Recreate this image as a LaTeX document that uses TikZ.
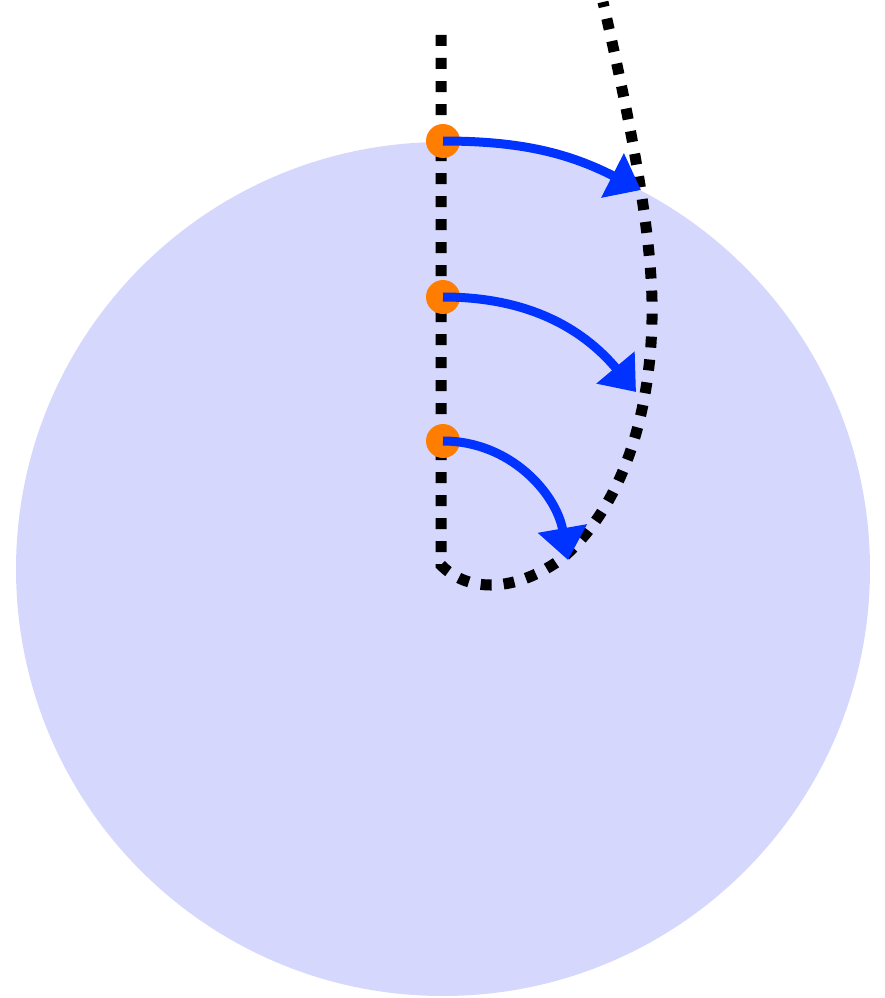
\documentclass[tikz,border=0pt]{standalone}
\usetikzlibrary{arrows.meta}
\definecolor{disk}{RGB}{214,215,253}
\definecolor{dotor}{RGB}{255,125,0}
\definecolor{arrblue}{RGB}{0,51,255}
\tikzset{
  trail/.style={line width=11pt, dash pattern=on 11pt off 12pt, black},
  pointdot/.style={circle, fill=dotor, minimum size=34pt, inner sep=0pt},
  move/.style={line width=9pt, arrblue, -{Triangle[length=32pt,width=48pt]}},
}
\begin{document}
\begin{tikzpicture}[x=1pt,y=-1pt]
\useasboundingbox (0,0) rectangle (885,998);
\fill[disk] (443,569) circle (427);
\draw[trail] (441,35) -- (441,565) .. controls (465,590) and (510,595) .. (560,560)
  .. controls (620,510) and (650,420) .. (652,320)
  .. controls (654,240) and (630,120) .. (603,2);
\node[pointdot] (p1) at (443,141) {};
\node[pointdot] (p2) at (443,297) {};
\node[pointdot] (p3) at (443,441) {};
\coordinate (t1) at (641,190);
\coordinate (t2) at (636,392);
\coordinate (t3) at (568,560);
\draw[move] (p1.center) to[out=0,in=153] (t1);
\draw[move] (p2.center) to[out=0,in=130] (t2);
\draw[move] (p3.center) to[out=0,in=100] (t3);
\end{tikzpicture}
\end{document}
